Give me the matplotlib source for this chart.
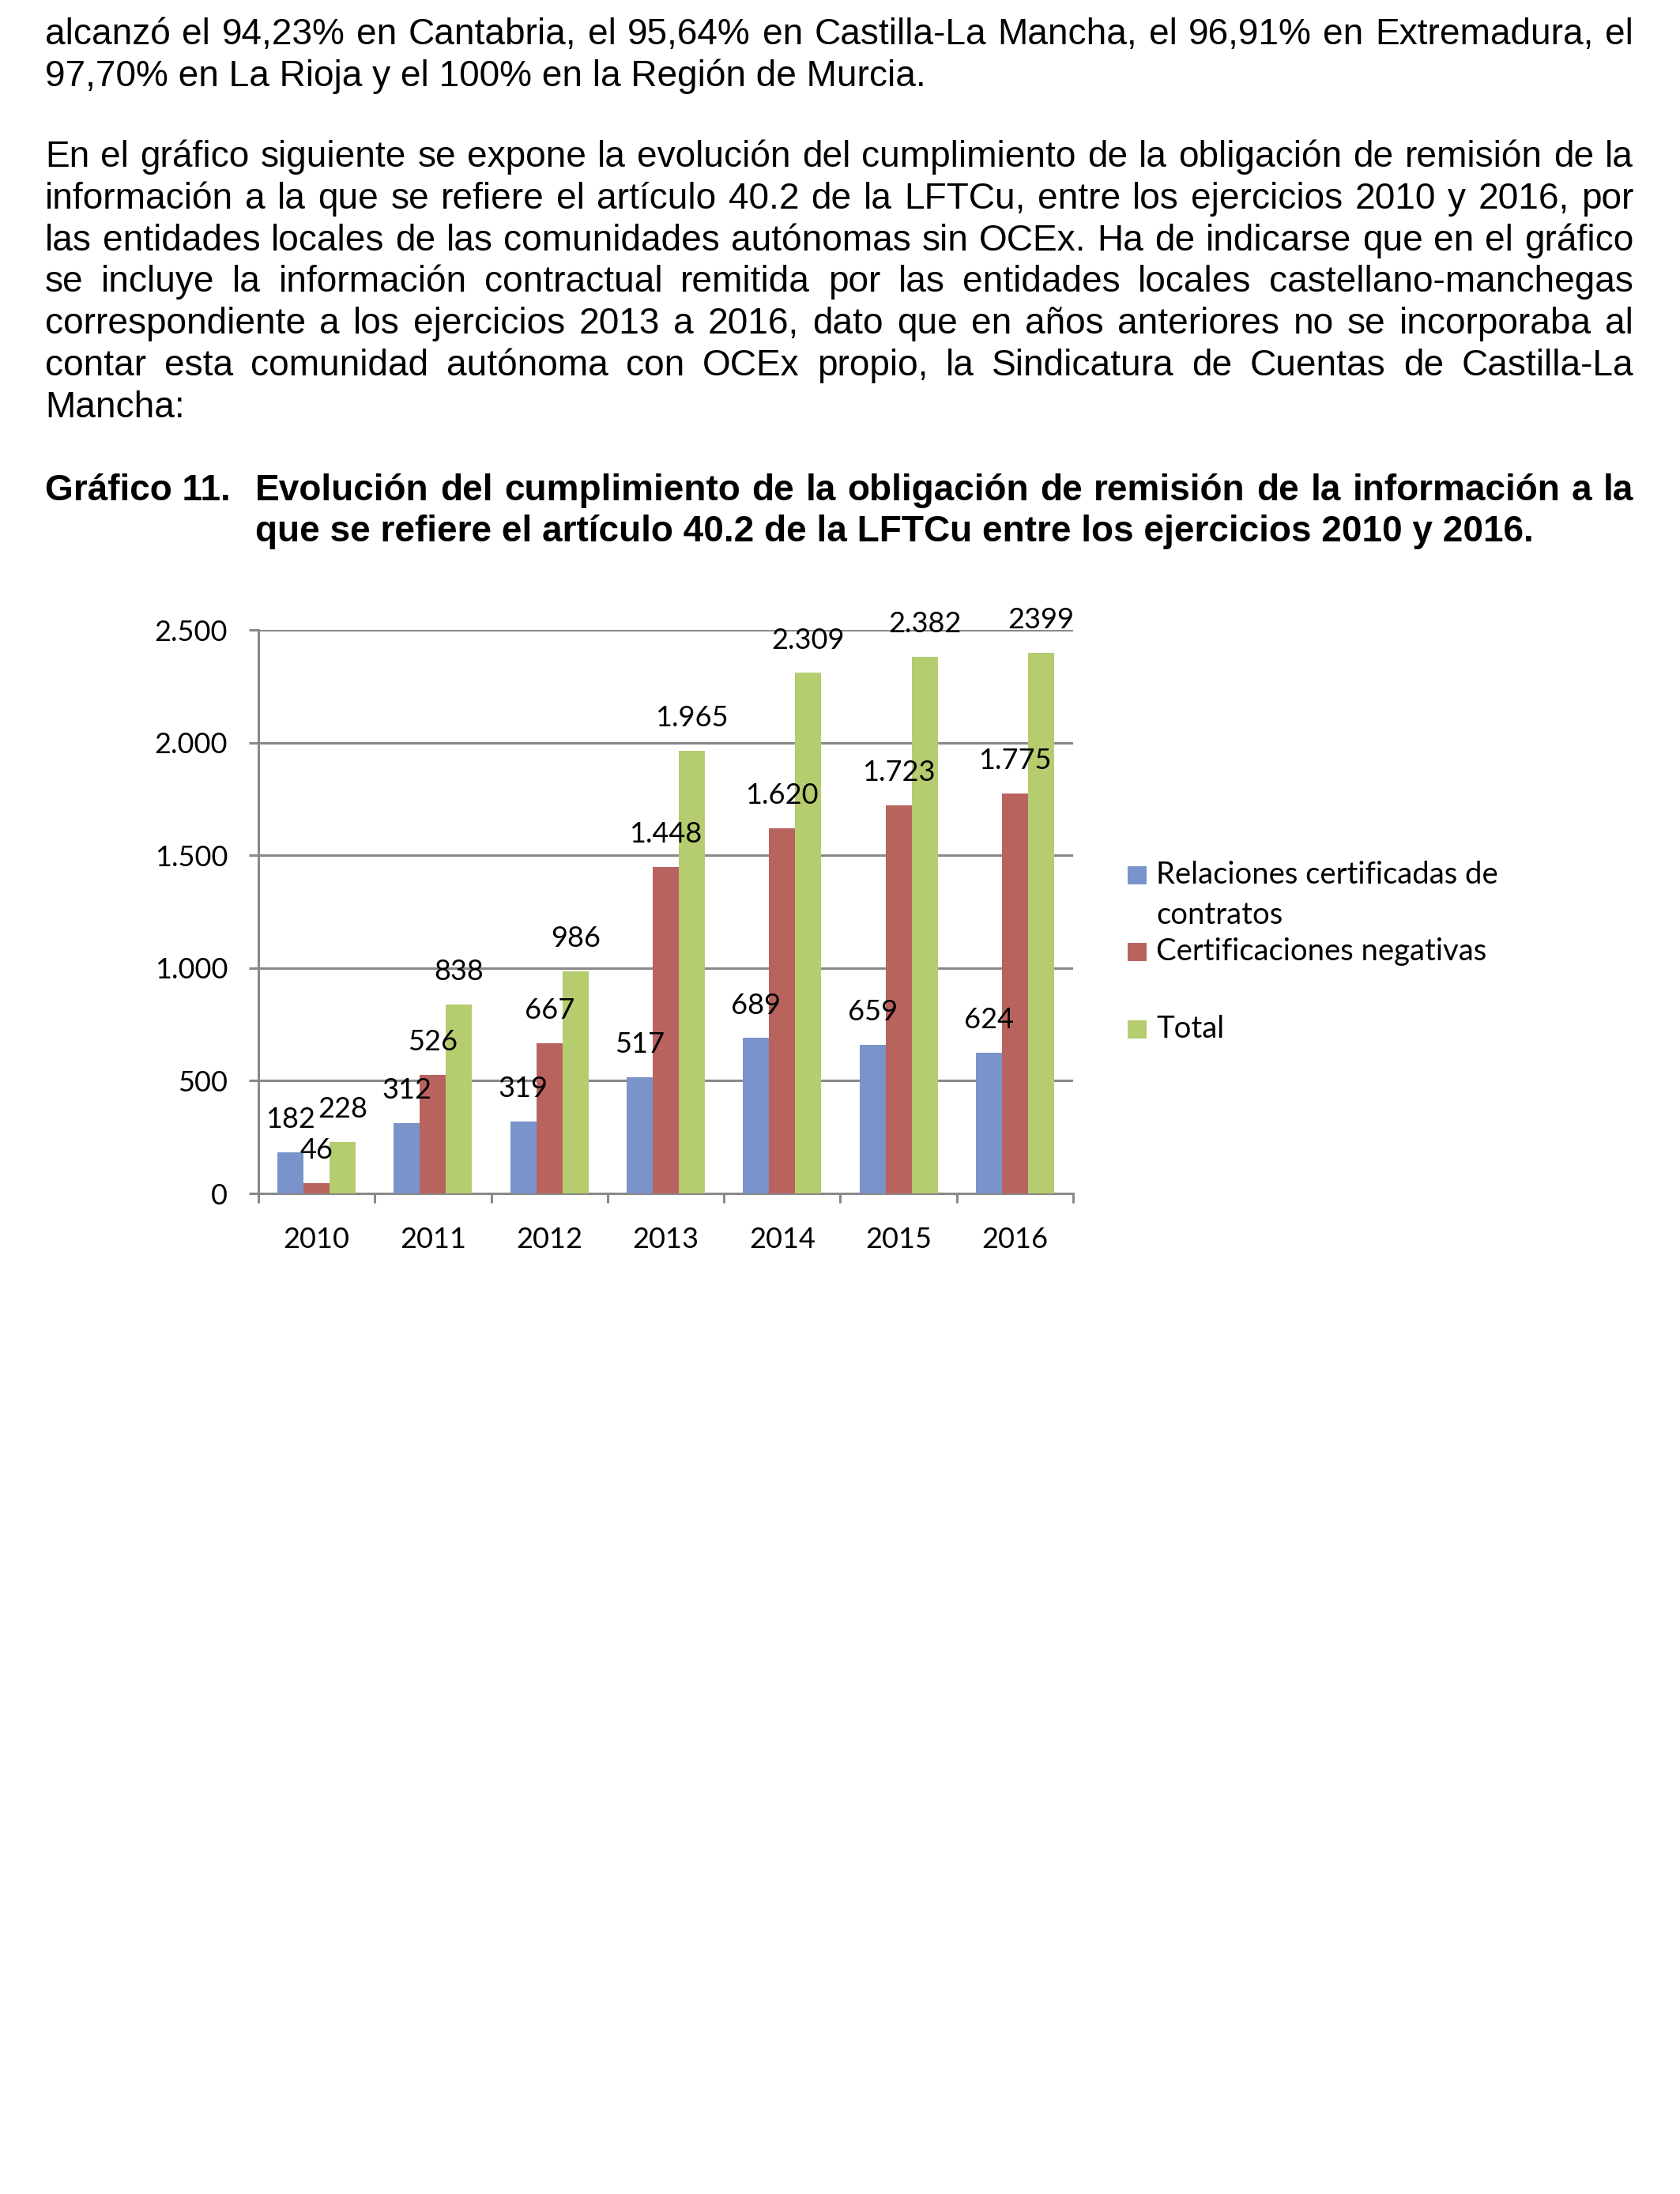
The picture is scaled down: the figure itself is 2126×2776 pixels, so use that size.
import matplotlib
matplotlib.use("Agg")
import matplotlib.pyplot as plt
from matplotlib.patches import Rectangle
from matplotlib.ticker import FuncFormatter
import numpy as np

# Data
years = ["2010", "2011", "2012", "2013", "2014", "2015", "2016"]
relaciones = [182, 312, 319, 517, 689, 659, 624]
negativas = [46, 526, 667, 1448, 1620, 1723, 1775]
total = [228, 838, 986, 1965, 2309, 2382, 2399]
total_labels = ["228", "838", "986", "1.965", "2.309", "2.382", "2399"]

series_names = ["Relaciones certificadas de\ncontratos", "Certificaciones negativas", "Total"]
series_colors = ["#7B93CB", "#B9635F", "#B5CC6F"]

para1 = [
    "alcanzó el 94,23% en Cantabria, el 95,64% en Castilla-La Mancha, el 96,91% en Extremadura, el",
    "97,70% en La Rioja y el 100% en la Región de Murcia.",
]
para2 = [
    "En el gráfico siguiente se expone la evolución del cumplimiento de la obligación de remisión de la",
    "información a la que se refiere el artículo 40.2 de la LFTCu, entre los ejercicios 2010 y 2016, por",
    "las entidades locales de las comunidades autónomas sin OCEx. Ha de indicarse que en el gráfico",
    "se incluye la información contractual remitida por las entidades locales castellano-manchegas",
    "correspondiente a los ejercicios 2013 a 2016, dato que en años anteriores no se incorporaba al",
    "contar esta comunidad autónoma con OCEx propio, la Sindicatura de Cuentas de Castilla-La",
    "Mancha:",
]
title_label = "Gráfico 11."
title_lines = [
    "Evolución del cumplimiento de la obligación de remisión de la información a la",
    "que se refiere el artículo 40.2 de la LFTCu entre los ejercicios 2010 y 2016.",
]

W, H = 2126, 2776
fig = plt.figure(figsize=(W / 100, H / 100), dpi=100)
fig.patch.set_facecolor("white")
renderer = fig.canvas.get_renderer()

BODY = dict(family="Liberation Sans", size=33.1, color="black")
TITLE = dict(family="Liberation Sans", size=33.1, weight="bold", color="black")
CHART = dict(family="Lato", size=26, color="black")
LEGEND = dict(family="Lato", size=27.5, color="black")


def fx(x):
    return x / W


def fy(y):
    return 1 - y / H


def put_line(words_line, x0, x1, y, style, justify):
    if not justify:
        fig.text(fx(x0), fy(y), words_line, ha="left", va="baseline", **style)
        return
    words = words_line.split(" ")
    arts = [fig.text(fx(x0), fy(y), w, ha="left", va="baseline", **style) for w in words]
    widths = [a.get_window_extent(renderer).width for a in arts]
    gap = (x1 - x0 - sum(widths)) / (len(words) - 1)
    x = x0
    for a, w in zip(arts, widths):
        a.set_x(fx(x))
        x += w + gap


LEFT, RIGHT = 57, 2067
LINE = 52.8

for i, line in enumerate(para1):
    put_line(line, LEFT, RIGHT, 56 + i * LINE, BODY, i < len(para1) - 1)
for i, line in enumerate(para2):
    put_line(line, LEFT, RIGHT, 211 + i * LINE, BODY, i < len(para2) - 1)

fig.text(fx(LEFT), fy(633), title_label, ha="left", va="baseline", **TITLE)
put_line(title_lines[0], 323, RIGHT, 633, TITLE, True)
put_line(title_lines[1], 323, RIGHT, 685, TITLE, False)

# Chart
ax = fig.add_axes([fx(327), fy(1510), (1358 - 327) / W, (1510 - 797) / H])
x = np.arange(len(years))
bw = 0.224
grey = "#898989"
for k, (vals, col) in enumerate(zip([relaciones, negativas, total], series_colors)):
    ax.bar(x + (k - 1) * bw, vals, width=bw, color=col, zorder=3)

label_sets = [[f"{v:,}".replace(",", ".") for v in relaciones],
              [f"{v:,}".replace(",", ".") for v in negativas],
              total_labels]
for k, (vals, labs) in enumerate(zip([relaciones, negativas, total], label_sets)):
    for xi, v, lab in zip(x, vals, labs):
        ax.annotate(lab, (xi + (k - 1) * bw, v), xytext=(0, 22.3), textcoords="offset points",
                    ha="center", va="baseline", zorder=5, **CHART)

ax.set_xlim(-0.5, len(years) - 0.5)
ax.set_ylim(0, 2500)
ax.set_yticks(np.arange(0, 2501, 500))
ax.yaxis.set_major_formatter(FuncFormatter(lambda v, p: f"{int(v):,}".replace(",", ".")))
ax.set_xticks(x)
ax.set_xticklabels(years)
ax.set_xticks(np.arange(-0.5, len(years), 1), minor=True)
ax.grid(axis="y", color=grey, linewidth=2.2, zorder=0)
ax.set_axisbelow(True)
for s in ["top", "right"]:
    ax.spines[s].set_visible(False)
for s in ["left", "bottom"]:
    ax.spines[s].set_color(grey)
    ax.spines[s].set_linewidth(2.2)
ax.tick_params(axis="y", length=8.6, width=2.2, color=grey, pad=19.4, labelsize=26)
ax.tick_params(axis="x", which="major", length=0, pad=30, labelsize=26)
ax.tick_params(axis="x", which="minor", length=8.6, width=2.2, color=grey)
for lab in ax.get_xticklabels() + ax.get_yticklabels():
    lab.set_family("Lato")

# Legend, drawn by hand to keep Excel's spacing
leg_tops = [1096, 1193, 1291]
for name, col, top in zip(series_names, series_colors, leg_tops):
    fig.patches.append(Rectangle((fx(1427), fy(top + 23)), 24 / W, 23 / H,
                                 transform=fig.transFigure, facecolor=col, edgecolor="none"))
    for j, part in enumerate(name.split("\n")):
        fig.text(fx(1463), fy(top + 22 + j * 51), part, ha="left", va="baseline", **LEGEND)

fig.savefig("out.png", dpi=100, facecolor="white")
